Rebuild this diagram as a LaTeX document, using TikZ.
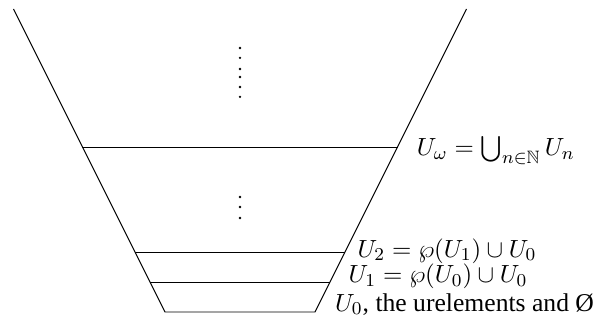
\documentclass[tikz,border=0pt]{standalone}
\usepackage{amsmath}
\usepackage{amssymb}
\usepackage{fontspec}
\setmainfont{Liberation Serif}

\begin{document}
\begin{tikzpicture}[scale=0.465,
    every node/.style={font=\fontsize{11.3}{13.5}\selectfont}]
  \useasboundingbox (-8,-0.367) rectangle (12,10.4);
  % the cone of the cumulative hierarchy
  \draw (-7.55,10.1) -- (-2.5,0) -- (2.5,0) -- (7.55,10.1);
  \draw (-3,1) -- (3,1);
  \draw (-3.5,2) -- (3.5,2);
  \draw (-5.25,5.5) -- (5.25,5.5);
  \foreach \y in {8.8,8.47,8.1,7.83,7.5,7.17,3.83,3.5,3.13}
    \fill (0,\y) circle (0.045);
  % labels of the stages
  \draw (3.65,1.83) node[anchor=base west] {$U_2 = \wp(U_1) \cup U_0$};
  \draw (3.35,0.97) node[anchor=base west] {$U_1 = \wp(U_0) \cup U_0$};
  \draw (2.9,0.03) node[anchor=base west] {$U_0$, the urelements and \O};
  \draw (5.63,5.2) node[anchor=base west] {$U_\omega = \bigcup_{n\in\mathbb{N}} U_n$};
\end{tikzpicture}
\end{document}
